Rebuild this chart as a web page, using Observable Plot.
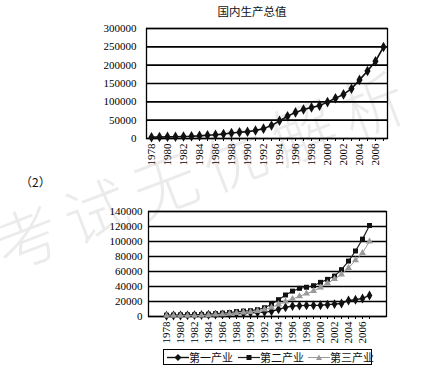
<!DOCTYPE html>
<html>
<head>
<meta charset="utf-8">
<script src="https://cdn.jsdelivr.net/npm/d3@7"></script>
<script src="https://cdn.jsdelivr.net/npm/@observablehq/plot@0.6"></script>
<style>
  html, body { margin: 0; padding: 0; background: #fff; }
  #root { position: relative; width: 438px; height: 369px; overflow: hidden; background: #fff; }
  .abs { position: absolute; }
  #title { left: 190px; top: 6px; width: 124px; text-align: center; font: 11.5px/1 "Noto Sans CJK SC", sans-serif; color: #111; }
  #sub { left: 20px; top: 176px; font: 12px/1 "Noto Sans CJK SC", serif; color: #111; }
  #legend { left: 163px; top: 349px; width: 209px; height: 16px; border: 1px solid #000; font: 11px/1 "Noto Sans CJK SC", sans-serif; color: #111; box-sizing: border-box; }
  #legend .item { position: absolute; top: 1px; display: flex; align-items: center; white-space: nowrap; height: 13px; }
  #legend svg { display: block; }
  #wm { left: -20px; top: 128px; width: 480px; transform: rotate(-21deg); transform-origin: 50% 50%; font: 300 64px/1 "Noto Sans CJK SC", sans-serif; letter-spacing: 10px; color: rgba(0,0,0,0.08); white-space: nowrap; pointer-events: none; }
  #root svg text { font-family: "Liberation Serif", "Times New Roman", serif !important; fill: #000; }
</style>
</head>
<body>
<div id="root">
  <div id="title" class="abs">国内生产总值</div>
  <div id="top" class="abs" style="left:0;top:20px"></div>
  <div id="sub" class="abs">（2）</div>
  <div id="bottom" class="abs" style="left:0;top:200px"></div>
  <div id="legend" class="abs"></div>
  <div id="wm" class="abs">考试无优解析</div>
</div>
<script>
// ---- data ----
const years = [1978,1979,1980,1981,1982,1983,1984,1985,1986,1987,1988,1989,1990,1991,1992,1993,1994,1995,1996,1997,1998,1999,2000,2001,2002,2003,2004,2005,2006,2007];
const tickLabels = ["1978","1980","1982","1984","1986","1988","1990","1992","1994","1996","1998","2000","2002","2004","2006"];
const gdp = [3645,4063,4546,4892,5323,5963,7208,9016,10275,12059,15043,16992,18668,21782,26924,35334,48198,60794,71177,78973,84402,89677,99215,109655,120333,135823,159878,183868,210871,249530];
const primary = [1028,1270,1372,1559,1777,1978,2316,2564,2789,3233,3865,4266,5062,5342,5867,6964,9573,12136,14015,14442,14818,14770,14945,15781,16537,17382,21413,22420,24040,28095];
const secondary = [1745,1914,2192,2256,2383,2646,3106,3867,4493,5252,6587,7278,7717,9102,11700,16454,22445,28679,33835,37543,39004,41034,45556,49512,53897,62436,73904,87365,103162,121381];
const tertiary = [872,879,982,1077,1163,1338,1786,2585,2994,3574,4590,5448,5888,7337,9357,11916,16180,19978,23326,26988,30580,33873,38714,44362,49899,56005,64561,74919,84721,100054];
const seriesNames = ["第一产业","第二产业","第三产业"];
const gdpTicks = [0,50000,100000,150000,200000,250000,300000];
const sectorTicks = [0,20000,40000,60000,80000,100000,120000,140000];

const labelSet = new Set(tickLabels);
const gdpData = years.map((y,i) => ({year: y, value: gdp[i]}));
const sectorData = [primary, secondary, tertiary].flatMap((arr, k) =>
  years.map((y,i) => ({year: y, value: arr[i], series: seriesNames[k]})));

const styles = {
  "第一产业": {stroke: "#111", fill: "#111", symbol: "diamond", r: 3, sw: 1.4},
  "第二产业": {stroke: "#222", fill: "#111", symbol: "square", r: 2.8, sw: 1.2},
  "第三产业": {stroke: "#999", fill: "#9a9a9a", symbol: "triangle", r: 2.6, sw: 1}
};

const baseStyle = {background: "transparent", fontFamily: "Liberation Serif", fontSize: "11px", color: "#000", overflow: "visible"};

function xAxis() {
  return Plot.axisX({ticks: years, tickRotate: -90, tickSize: 3, tickPadding: 2,
    tickFormat: d => labelSet.has(String(d)) ? String(d) : "", label: null, stroke: "#000"});
}

// ---- top chart ----
const topChart = Plot.plot({
  width: 438, height: 153,
  marginLeft: 146, marginRight: 51, marginTop: 8, marginBottom: 35,
  style: baseStyle,
  x: {type: "point", domain: years, padding: 0.5, label: null},
  y: {domain: [0, 300000], label: null},
  marks: [
    Plot.ruleY(gdpTicks, {stroke: "#000", strokeWidth: 1.6}),
    Plot.frame({stroke: "#000", strokeWidth: 1.3}),
    Plot.axisY({ticks: gdpTicks, tickSize: 0, tickPadding: 10, tickFormat: d => String(d), label: null}),
    xAxis(),
    Plot.line(gdpData, {x: "year", y: "value", stroke: "#111", strokeWidth: 1.6}),
    Plot.dot(gdpData, {x: "year", y: "value", symbol: "diamond", r: 3.2, fill: "#111", stroke: "none"})
  ]
});
document.getElementById("top").appendChild(topChart);

// ---- bottom chart ----
const lineMarks = seriesNames.flatMap(name => {
  const s = styles[name];
  const data = sectorData.filter(d => d.series === name);
  return [
    Plot.line(data, {x: "year", y: "value", stroke: s.stroke, strokeWidth: s.sw}),
    Plot.dot(data, {x: "year", y: "value", symbol: s.symbol, r: s.r, fill: s.fill, stroke: "none"})
  ];
});
const bottomChart = Plot.plot({
  width: 438, height: 152,
  marginLeft: 148, marginRight: 52, marginTop: 11, marginBottom: 36,
  style: baseStyle,
  x: {type: "point", domain: years, padding: 0.5, label: null},
  y: {domain: [0, 140000], label: null},
  marks: [
    Plot.ruleY(sectorTicks, {stroke: "#000", strokeWidth: 1.6}),
    Plot.frame({stroke: "#000", strokeWidth: 1.3}),
    Plot.axisY({ticks: sectorTicks, tickSize: 0, tickPadding: 6, tickFormat: d => String(d), label: null}),
    xAxis(),
    ...lineMarks
  ]
});
document.getElementById("bottom").appendChild(bottomChart);

// ---- legend ----
const legend = document.getElementById("legend");
const symPaths = {
  diamond: "M11,3 L14.5,6.5 L11,10 L7.5,6.5 Z",
  square: "M8.5,4 H13.5 V9 H8.5 Z",
  triangle: "M11,3.5 L14,9 H8 Z"
};
const itemLeft = [3, 74, 144];
seriesNames.forEach((name, i) => {
  const s = styles[name];
  const item = document.createElement("div");
  item.className = "item";
  item.style.left = itemLeft[i] + "px";
  item.innerHTML = `<svg width="22" height="13"><line x1="0" y1="6.5" x2="22" y2="6.5" stroke="${s.stroke}" stroke-width="${s.sw}"/><path d="${symPaths[s.symbol]}" fill="${s.fill}"/></svg><span>${name}</span>`;
  legend.appendChild(item);
});
</script>
</body>
</html>
